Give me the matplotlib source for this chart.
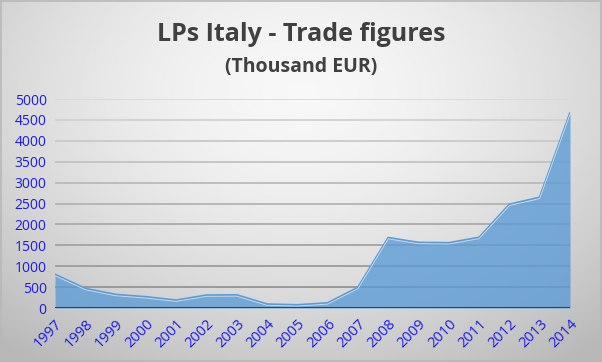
import matplotlib.pyplot as plt
import numpy as np

years = [str(y) for y in range(1997, 2015)]
values = [800, 465, 320, 265, 185, 305, 310, 90, 72, 120, 490,
          1680, 1565, 1557, 1687, 2477, 2645, 4657]
y_ticks = [0, 500, 1000, 1500, 2000, 2500, 3000, 3500, 4000, 4500, 5000]

fig = plt.figure(figsize=(6.02, 3.62), dpi=100)

# radial grey background
bg = fig.add_axes([0, 0, 1, 1])
gx, gy = np.meshgrid(np.linspace(0, 1, 300), np.linspace(0, 1, 200))
r = np.sqrt(((gx - 0.5) / 0.75) ** 2 + ((gy - 0.25) / 0.9) ** 2)
shade = np.clip(0.97 - 0.24 * r ** 1.6, 0.72, 0.97)
bg.imshow(shade, cmap="gray", vmin=0, vmax=1, aspect="auto", extent=[0, 1, 1, 0])
bg.set_xlim(0, 1)
bg.set_ylim(1, 0)
bg.axis("off")
bg.add_patch(plt.Rectangle((0.001, 0.002), 0.997, 0.995, fill=False,
                           edgecolor="#b8b8b8", lw=1.2, transform=bg.transAxes))

ax = fig.add_axes([0.0914, 0.149, 0.8555, 0.5775])
ax.patch.set_visible(False)
x = np.arange(len(years))

for t in y_ticks[1:]:
    level = t / 5000
    c = 0.55 + 0.30 * level
    ax.axhline(t, color=(c, c, c), lw=1.3, zorder=1)

ax.fill_between(x, values, color="#5b9bd5", alpha=0.78, lw=0, zorder=2)
ax.plot(x, values, color="#5b9bd5", lw=1.6, zorder=3)
ax.plot(x, np.array(values) - 25, color="#c5dcf2", lw=0.7, zorder=3)
ax.axhline(0, color="#404040", lw=2.2, zorder=4)

ax.set_xlim(0, len(years) - 1)
ax.set_ylim(0, 5000)
ax.set_yticks(y_ticks)
ax.set_yticklabels([str(t) for t in y_ticks], fontsize=10, color="#1a1aee",
                   family="Open Sans")
ax.set_xticks(x)
ax.set_xticklabels(years, rotation=45, ha="right", rotation_mode="anchor",
                   fontsize=10.5, color="#1a1aee", family="Open Sans")
ax.tick_params(length=0, pad=6)
for s in ax.spines.values():
    s.set_visible(False)

fig.text(0.5, 1 - 41 / 362, "LPs Italy - Trade figures", ha="center",
         va="baseline", fontsize=18, fontweight="bold", color="#404040",
         family="Open Sans")
fig.text(0.5, 1 - 72 / 362, "(Thousand EUR)", ha="center", va="baseline",
         fontsize=14, fontweight="bold", color="#404040", family="Open Sans")

fig.savefig("out.png", dpi=100)
